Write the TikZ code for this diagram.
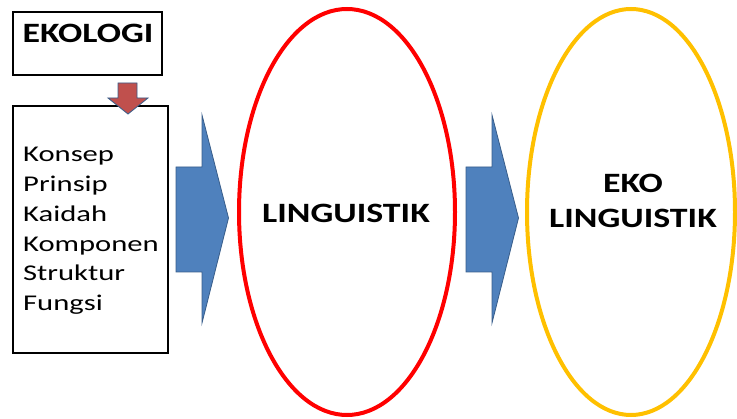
\documentclass[tikz,border=0pt]{standalone}
\usepackage{fontspec}
\setmainfont{Carlito}[FakeStretch=1.28]
\newfontfamily\listfont{Carlito}[FakeStretch=1.36]
\usetikzlibrary{shapes.geometric}
\definecolor{flowblue}{HTML}{4F81BD}
\definecolor{flowblueedge}{HTML}{385D8A}
\definecolor{flowred}{HTML}{C0504D}
\definecolor{ringred}{HTML}{FF0000}
\definecolor{ringgold}{HTML}{FFC000}
\tikzset{
  framebox/.style={draw=black, line width=1.4pt, fill=white},
  bigarrow/.style={fill=flowblue, draw=flowblueedge, line width=0.8pt, line join=miter},
  downarrow/.style={fill=flowred, draw=flowblueedge, line width=0.8pt},
  ring/.style={ellipse, line width=4pt, inner sep=0pt},
  listtext/.style={font=\listfont\fontsize{22.5}{26}\selectfont, inner sep=0pt, anchor=base west},
  bigtext/.style={font=\fontsize{28}{34}\selectfont\bfseries, inner sep=0pt, anchor=base},
}
\begin{document}
\begin{tikzpicture}[x=1pt,y=-1pt]
\useasboundingbox (0,0) rectangle (737,419);

% the two framed boxes on the left
\draw[framebox] (13,12) rectangle (162,75);
\node[bigtext] (ekologi) at (88,43) {EKOLOGI};
\draw[framebox] (13,106) rectangle (168,353);

% small down arrow between the boxes
\draw[downarrow] (118,83) -- (137,83) -- (137,98) -- (148,98) -- (128,114)
  -- (108,98) -- (118,98) -- cycle;

% list of ecology terms
\foreach \word [count=\i from 0] in {Konsep,Prinsip,Kaidah,Komponen,Struktur,Fungsi}
  \node[listtext] (term\i) at (23,{162+29.7*\i}) {\word};

% the two ellipses
\node[ring, draw=ringred, minimum width=216pt, minimum height=406pt] (ling) at (347,212) {};
\node[bigtext] (lingtext) at (346,223) {LINGUISTIK};

\node[ring, draw=ringgold, minimum width=208pt, minimum height=406pt] (eko) at (631,212) {};
\node[bigtext] (ekotext) at (633,193) {EKO};
\node[bigtext] (ekoling) at (633,228) {LINGUISTIK};

% broad block arrows between the stages
\foreach \x in {176,466}
  \draw[bigarrow] (\x,167) -- (\x+26,167) -- (\x+26,115) -- (\x+52.5,218)
    -- (\x+26,323) -- (\x+26,272) -- (\x,272) -- cycle;
\end{tikzpicture}
\end{document}
